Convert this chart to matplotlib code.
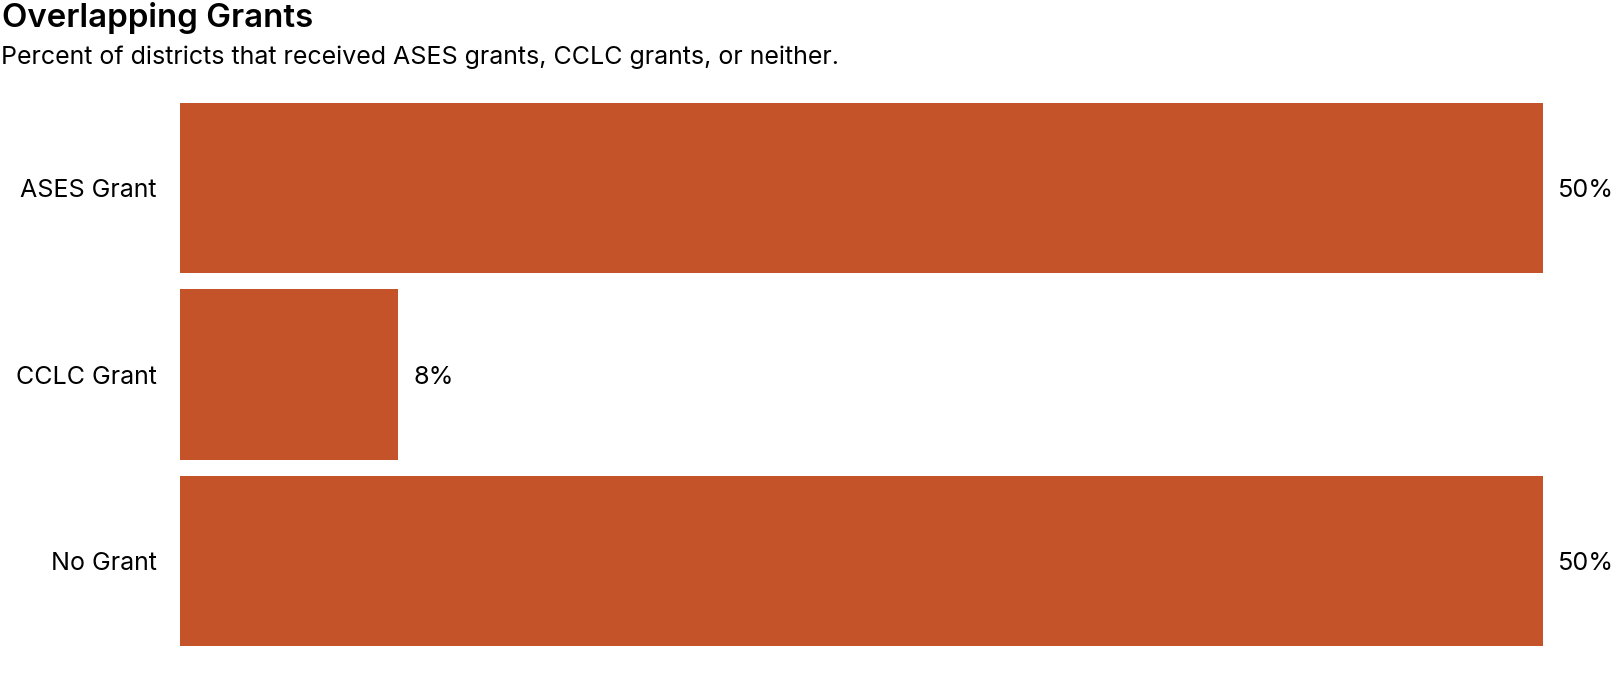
import matplotlib
matplotlib.use("Agg")
import matplotlib.pyplot as plt

categories = ["ASES Grant", "CCLC Grant", "No Grant"]
values = [50, 8, 50]
value_labels = ["50%", "8%", "50%"]

plt.rcParams['font.family'] = ['Inter', 'DejaVu Sans']

W, H = 1620, 681
fig = plt.figure(figsize=(W / 100, H / 100), dpi=100)
ax = fig.add_axes([180 / W, 1 - 654.6 / H, (1542.7 - 180) / W, (654.6 - 94.4) / H])

color = "#C4532A"
ypos = list(range(len(categories)))
ax.barh(ypos, values, height=0.911, color=color)
ax.set_xlim(0, 50)
ax.set_ylim(len(categories) - 0.5, -0.5)

for y, v, lab in zip(ypos, values, value_labels):
    ax.annotate(lab, xy=(v, y), xytext=(15, 0), textcoords="offset pixels",
                ha="left", va="center_baseline", fontsize=18.2, color="black")

ax.set_yticks(ypos)
ax.set_yticklabels(categories, fontsize=18)
ax.tick_params(axis="y", length=0, pad=17)
ax.set_xticks([])
for s in ax.spines.values():
    s.set_visible(False)

fig.text(2 / W, 1 - 27 / H, "Overlapping Grants", fontsize=23.8, fontweight="semibold",
         ha="left", va="baseline")
fig.text(1 / W, 1 - 64 / H, "Percent of districts that received ASES grants, CCLC grants, or neither.",
         fontsize=18, ha="left", va="baseline")

fig.savefig("out.png", dpi=100)
